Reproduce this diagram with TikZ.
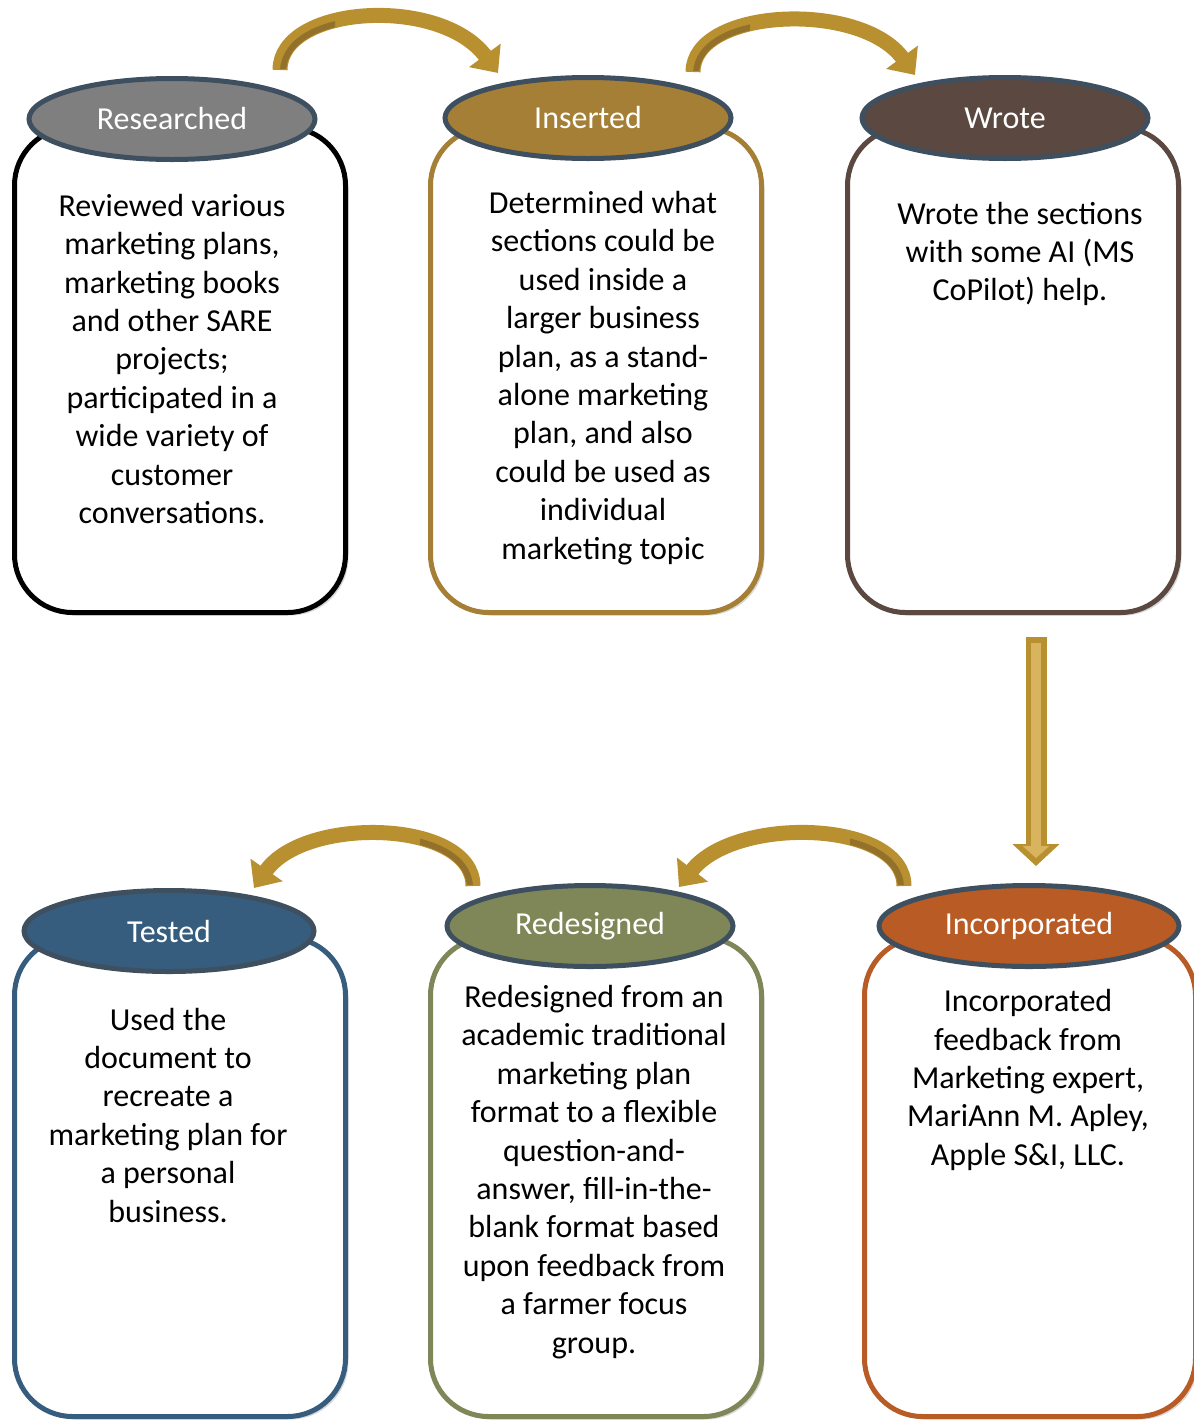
\documentclass[tikz,border=0pt]{standalone}
\usepackage{fontspec}
\setmainfont{Carlito}
\usetikzlibrary{shapes.geometric,arrows.meta,shadows}
\definecolor{gold}{HTML}{B8902F}
\definecolor{golddark}{HTML}{94712A}
\definecolor{goldlight}{HTML}{D9B45E}
\definecolor{rimc}{HTML}{3E4F5F}
\definecolor{cRes}{HTML}{7F7F7F}
\definecolor{cIns}{HTML}{A57F35}
\definecolor{cWro}{HTML}{5B4840}
\definecolor{cTes}{HTML}{365D7E}
\definecolor{cRed}{HTML}{7F8759}
\definecolor{cInc}{HTML}{B85B24}
\tikzset{
  panel/.style={rectangle, rounded corners=58pt, line width=5pt, fill=white,
    minimum width=331pt, minimum height=#1, inner sep=0pt,
    drop shadow={shadow xshift=3pt, shadow yshift=-3pt, opacity=0.35, fill=black!45}},
  capell/.style={ellipse, line width=5pt, draw=rimc, inner sep=0pt,
    minimum height=81pt, text=white, font=\fontsize{32}{36}\selectfont},
  bodytext/.style={align=center, text=black, font=\fontsize{32}{38.4}\selectfont, inner sep=0pt},
  curvarrow/.style={draw=gold, line width=15pt, -{Triangle[width=38pt,length=22pt]}},
  tailband/.style={draw=golddark, line width=6pt}
}
\begin{document}
\begin{tikzpicture}[x=1pt,y=-1pt]
\useasboundingbox (0,0) rectangle (1194,1422);
\clip (0,0) rectangle (1194,1422);

% named connector end points
\coordinate (a1s) at (280,70);  \coordinate (a1e) at (498,73);
\coordinate (a2s) at (693,72);  \coordinate (a2e) at (915,75);
\coordinate (a3s) at (904,886); \coordinate (a3e) at (679,887);
\coordinate (a4s) at (473,886); \coordinate (a4e) at (254,888);
\coordinate (v1) at (1036,637); \coordinate (v2) at (1036,866);

% panels
\node[panel=485pt, draw=black] (p1) at (180,370) {};
\node[panel=485pt, draw=cIns]  (p2) at (596,370) {};
\node[panel=485pt, draw=cWro]  (p3) at (1013,370) {};
\node[panel=479pt, draw=cTes]  (p4) at (180,1177) {};
\node[panel=479pt, draw=cRed]  (p5) at (596,1177) {};
\node[panel=479pt, draw=cInc]  (p6) at (1030,1177) {};

% captions
\node[capell, fill=cRes, minimum width=286pt] (e1) at (172,119) {Researched};
\node[capell, fill=cIns, minimum width=286pt] (e2) at (588,118) {Inserted};
\node[capell, fill=cWro, minimum width=286pt] (e3) at (1005,118) {Wrote};
\node[capell, fill=cTes, minimum width=290pt] (e4) at (169,931) {Tested};
\node[capell, fill=cRed, minimum width=286pt] (e5) at (590,926) {Redesigned};
\node[capell, fill=cInc, minimum width=300pt] (e6) at (1029,926) {Incorporated};

% body texts
\node[bodytext] (t1) at (172,359) {Reviewed various\\marketing plans,\\marketing books\\and other SARE\\projects;\\participated in a\\wide variety of\\customer\\conversations.};
\node[bodytext] (t2) at (603,378) {Determined what\\sections could be\\used inside a\\larger business\\plan, as a stand-\\alone marketing\\plan, and also\\could be used as\\individual\\marketing topic};
\node[bodytext] (t3) at (1020,254) {Wrote the sections\\with some AI (MS\\CoPilot) help.};
\node[bodytext] (t4) at (168,1115) {Used the\\document to\\recreate a\\marketing plan for\\a personal\\business.};
\node[bodytext] (t5) at (594,1172) {Redesigned from an\\academic traditional\\marketing plan\\format to a flexible\\question-and-\\answer, fill-in-the-\\blank format based\\upon feedback from\\a farmer focus\\group.};
\node[bodytext] (t6) at (1028,1080) {Incorporated\\feedback from\\Marketing expert,\\MariAnn M. Apley,\\Apple S\&I, LLC.};

% curved arrows
\draw[curvarrow] (a1s) .. controls (280,5) and (440,-5) .. (a1e);
\begin{scope}
  \clip (265,0) rectangle (335,68);
  \draw[tailband] ([shift={(3,2)}]a1s) .. controls (283,7) and (443,-3) .. ([shift={(3,2)}]a1e);
\end{scope}
\draw[curvarrow] (a2s) .. controls (693,8) and (860,0) .. (a2e);
\begin{scope}
  \clip (680,0) rectangle (750,70);
  \draw[tailband] ([shift={(3,2)}]a2s) .. controls (696,10) and (863,2) .. ([shift={(3,2)}]a2e);
\end{scope}
\draw[curvarrow] (a3s) .. controls (904,820) and (735,815) .. (a3e);
\begin{scope}
  \clip (850,810) rectangle (920,884);
  \draw[tailband] ([shift={(-3,2)}]a3s) .. controls (901,822) and (732,817) .. ([shift={(-3,2)}]a3e);
\end{scope}
\draw[curvarrow] (a4s) .. controls (473,820) and (305,815) .. (a4e);
\begin{scope}
  \clip (420,810) rectangle (490,884);
  \draw[tailband] ([shift={(-3,2)}]a4s) .. controls (470,822) and (302,817) .. ([shift={(-3,2)}]a4e);
\end{scope}

% vertical arrow
\draw[draw=gold, line width=21pt, -{Triangle[width=46pt,length=22pt]}] (v1) -- (v2);
\draw[draw=goldlight, line width=10pt, -{Triangle[width=26pt,length=12pt]}] ([yshift=-6pt]v1) -- ([yshift=8pt]v2);
\end{tikzpicture}
\end{document}
